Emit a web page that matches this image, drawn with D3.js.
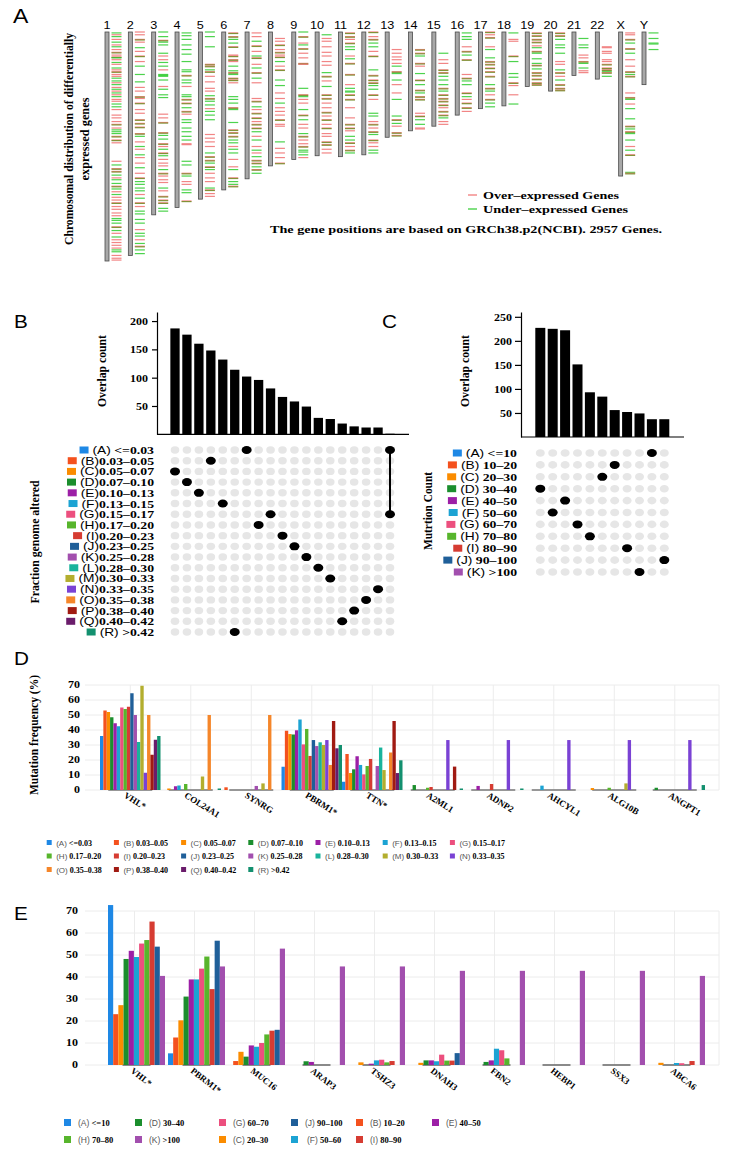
<!DOCTYPE html>
<html><head><meta charset="utf-8">
<script src="https://cdn.jsdelivr.net/npm/d3@7"></script>
<style>body{margin:0;background:#fff}svg{display:block}</style>
</head><body>
<svg id="c" width="733" height="1154"></svg>
<script>
// ---------------- DATA ----------------
const chromosomes = ['1','2','3','4','5','6','7','8','9','10','11','12','13','14','15','16','17','18','19','20','21','22','X','Y'];
const chromLengthMb = [248,242,198,190,181,171,159,145,138,134,135,133,114,107,102,90,83,80,59,64,47,51,156,57];
// gene marks per chromosome: r = over-expressed, g = under-expressed, b = both at that position (Mb)
const geneMarks = [
 "g1 r3 g5 r8 g11 r14 g16 r19 b22 r25 b27 g28 r30 g33 r35 g39 r41 b43 r46 r48 g50 g53 r55 g57 r60 g62 r64 g66 r68 g70 r73 r75 g78 g81 r84 r90 r93 r97 b100 r104 g106 g108 g110 b113 b117 r120 r140 g144 b148 b151 g155 r158 g160 g164 b167 g170 r173 g176 r179 r182 b185 r189 r192 r196 r199 g202 g204 g207 b211 g215 r218 g222 r225 r228 r231 r234 g236 g238 r242 r245 r247",
 "r0 r3 b8 r11 g17 r21 b26 r32 g37 g46 g54 r60 r64 b70 r72 b77 r84 r88 b95 b99 b103 b110 g113 r119 g124 r127 g133 r136 r142 g147 r153 b158 g162 g165 g169 g172 r176 g180 b185 r189 g194 g197 g203 g207 r214 g218 g221 r225 g229 b232 g236 g240",
 "g0 g5 b9 g11 g14 g23 r26 r30 g33 g37 r41 g46 g47 g48 g52 r59 g62 g68 g71 r89 r93 b98 b109 g112 g116 b121 r124 g127 b131 g134 r138 r142 r145 g149 b153 r156 r160 r163 g169 r172 b178 b182 b185 g191 g194",
 "g1 g4 g8 g14 g19 g24 g32 g41 g43 b47 g52 g55 r59 g68 g70 b73 b77 g82 b86 r89 g95 g98 g104 g108 g113 g117 r121 r122 g140 g144 b153 g156 r162 r165 g171 g174 b183",
 "g0 g5 g16 b35 b37 g41 b43 r48 r54 r61 r64 g69 b72 g75 g79 r83 g86 g90 g95 r111 r115 r119 r124 g131 b135 b139 g142 b146 g149 r153 r158 r162 g169 b171 r175 r178",
 "b1 b5 g8 g12 b16 r25 b26 b30 r32 g37 g42 b44 g46 b50 b52 r55 g70 g73 g77 b82 g84 g98 b106 b109 b113 g117 g120 r124 g127 g131 r138 r146 g149 b158 g162 g165 b167",
 "r1 r5 g10 b15 r21 g26 b28 r35 g39 b44 g50 r55 r72 b75 g81 r84 b88 b93 r97 b100 b104 g108 r113 g117 r124 g128 r131 g135 b139 b142 g146 b149 g153",
 "r7 r10 b14 r19 b22 r25 b27 g32 r37 b41 g52 g58 r66 r72 g77 r82 r86 r90 b95 r100 r102 g119 r126 r131 r136 b142",
 "g0 b5 r12 g14 b18 r23 r28 b34 r35 g61 b68 g70 r73 r77 g84 b90 g95 r100 r104 g110 b113 r117 r121 b124 g128 g130 g133 r136",
 "g3 r7 r10 r16 r22 r26 r32 r36 g44 b48 r53 g59 b68 b72 r77 r82 b87 r91 b95 r100 b104 r110 r113 b119 b122 r127 r131",
 "b1 b5 r8 b12 g16 g19 r26 g29 b34 b46 r57 g61 g64 g65 b68 b73 r82 r93 b100 b104 r107 g113 g117 b120 r124 b128 g131",
 "b0 r5 b8 g12 g16 r21 b26 g41 b47 b52 b55 g58 g62 b68 r73 g88 g91 r97 b100 r104 b108 g111 b117 r120 r124 g128 g131",
 "r19 r23 r27 r30 r34 g37 b43 g45 g52 r57 r66 g73 g91 b95 g99 r102 b109 b112",
 "b19 b23 g26 b34 r37 g45 b52 g57 b63 g66 b70 b73 r88 b91 g95 g100 r104 r105",
 "g23 r30 r34 b41 b44 g48 g52 g57 b61 g64 b68 b72 b75 b79 r82 b86 b90 g93 r97 r100",
 "g1 g5 g8 r16 b21 g25 b30 r46 b50 g53 g57 b66 g70 r73 b77 b82 r86",
 "b0 r3 b6 r16 g19 g28 b32 b35 b39 b43 b48 g57 b61 g64 r68 b73 g77 g81",
 "g1 r8 r10 b26 g32 g45 g49 b55 r58 r68 g78",
 "b1 b4 b8 b11 r15 g17 b21 g23 g29 g34 b36 g40 b44 b47 b51 b55 b57",
 "b1 b4 g8 g14 g17 g23 r32 r35 g41 b44 r48 g52 b57 b61 b63",
 "g7 g14 g17 r25 r28 b32 g34 g39 r42 r44",
 "r16 r17 r21 r23 r30 r32 b35 b39 b41 g43 b44 g48",
 "r1 r3 b8 g12 b18 g23 r30 r37 b43 g46 b48 r66 b71 g73 r78 g83 g94 b102 g105 b108 g110 g117 r124 g128 b133 g152 b153",
 "g1 g7 g12 g13 g19"
];

const fgaLetters = ['A','B','C','D','E','F','G','H','I','J','K','L','M','N','O','P','Q','R'];
const fgaRanges = ['<=0.03','0.03–0.05','0.05–0.07','0.07–0.10','0.10–0.13','0.13–0.15','0.15–0.17','0.17–0.20','0.20–0.23','0.23–0.25','0.25–0.28','0.28–0.30','0.30–0.33','0.33–0.35','0.35–0.38','0.38–0.40','0.40–0.42','>0.42'];
const fgaColors = ['#1e88e5','#f4511e','#fb8c00','#1b8e2d','#9c1fa6','#1ca3d3','#ec4f7e','#57b52c','#d63c32','#1f5f99','#a24fae','#19b39c','#b3ae2e','#7a42d4','#f5862a','#a01a12','#6a1c6b','#13906f'];
const fgaOverlapCounts = [187,176,160,148,132,114,102,96,81,66,58,49,29,27,19,14,12,12,1];
const fgaOverlapSets = [['C'],['D'],['E'],['B'],['F'],['R'],['A'],['H'],['G'],['I'],['J'],['K'],['L'],['M'],['Q'],['P'],['O'],['N'],['A','G']];

const mutLetters = ['A','B','C','D','E','F','G','H','I','J','K'];
const mutRanges = ['<=10','10–20','20–30','30–40','40–50','50–60','60–70','70–80','80–90','90–100','>100'];
const mutColors = ['#1e88e5','#f4511e','#fb8c00','#1b8e2d','#9c1fa6','#1ca3d3','#ec4f7e','#57b52c','#d63c32','#1f5f99','#a24fae'];
const mutOverlapCounts = [227,225,222,151,93,84,56,52,49,37,37];
const mutOverlapSets = [['D'],['F'],['E'],['G'],['H'],['C'],['B'],['I'],['K'],['A'],['J']];

const dGenes = ['VHL*','COL24A1','SYNRG','PBRM1*','TTN*','A2ML1','ADNP2','AHCYL1','ALG10B','ANGPT1'];
// rows = genes, columns = FGA groups A..R (mutation frequency %)
const dFreq = [
 [36,53,52,48.5,44.5,42.5,55,54,55.5,64.5,50,32,69.5,11.5,50,23.5,33.5,36],
 [0,0,1,0,2.5,3,0,4,0,0,0,0,9,0,50,0,0,1],
 [0,1.8,0,0,0,0,0,0,0,0,2.7,0,4.4,0,50,0,0,0],
 [15.5,39.5,37.3,37,39.8,47,30.4,40.7,22.7,33.3,29.3,31.8,30,33.3,16.7,46,27.8,30],
 [5.5,24,11.3,13.8,22.5,16.7,10.4,16,20.7,0,16,28.3,13.3,0,25,46,11.3,19.8],
 [0,0,0,3.3,0,0,0,1.5,2,0,0,0,0,33.3,0,15.6,0,1],
 [0,0,0,0,2.7,0,0,0,4,0,0,0,0,33.3,0,0,0,1],
 [0,0,0,0,0,2.9,0,0,0,0,0,0,0,33.3,0,0,0,0],
 [0,0,1.3,0,0,0,0,1.5,0,0,0,0,4.4,33.3,0,0,0,0],
 [0,0,0,1.5,0,0,0,0,0,0,0,0,0,33.3,0,0,0,3.3]
];
const dTicks = [0,10,20,30,40,50,60,70];

const eGenes = ['VHL*','PBRM1*','MUC16','ARAP3','TSHZ3','DNAH3','FBN2','HEBP1','SSX3','ABCA6'];
// rows = genes, columns = mutation-count groups A..K
const eFreq = [
 [72.7,23.1,27.2,48.2,51.9,49.1,55.2,56.8,65.2,53.8,40.5],
 [5.3,12.5,20.3,31.1,38.9,38.9,43.8,49.3,34.5,56.5,44.8],
 [0,1.8,6,3.8,8.9,8.3,10,13.9,15.6,16,52.9],
 [0,0,0,1.7,1.4,0,0,0,0,0,44.8],
 [0,0,1.2,0,0.6,2.1,2.4,1.2,1.8,0,44.8],
 [0,0,1,2.1,2.1,1.7,4.7,2,2,5.4,42.8],
 [0,0,0,1.4,2.1,7.4,6.7,3,0,0,42.8],
 [0,0,0,0,0,0,0,0,0,0,42.8],
 [0,0,0,0,0,0,0,0,0,0,42.8],
 [0,0,1,0,0,0.9,0.8,0,1.8,0,40.5]
];
const eTicks = [0,10,20,30,40,50,60,70];
const eLegendOrder = ['A','D','G','J','B','E','H','K','C','F','I'];

// ---------------- HELPERS ----------------
const SERIF = "'Liberation Serif','Times New Roman',serif";
const SANS = "'Liberation Sans',Arial,sans-serif";
const svg = d3.select('#c');
svg.append('rect').attr('width',733).attr('height',1154).attr('fill','#fff');

function label(g, x, y, str, o = {}) {
  const {size = 11, family = SERIF, weight = 'bold', anchor = 'start', sx = 1, rot = 0, len = null, fill = '#000'} = o;
  let tr = `translate(${x},${y})`;
  if (rot) tr += ` rotate(${rot})`;
  if (sx !== 1) tr += ` scale(${sx},1)`;
  const t = g.append('text').attr('transform', tr).attr('text-anchor', anchor)
    .style('font-family', family).style('font-size', size + 'px').style('font-weight', weight)
    .attr('fill', fill).text(str);
  if (len) t.attr('textLength', len).attr('lengthAdjust', 'spacingAndGlyphs');
  return t;
}
function setLabel(g, xEnd, y, letter, text, sx, size) {
  const t = g.append('text').attr('transform', `translate(${xEnd},${y}) scale(${sx},1)`)
    .attr('text-anchor', 'end').style('font-size', size + 'px').attr('fill', '#000');
  t.append('tspan').style('font-family', SANS).text(`(${letter})`);
  t.append('tspan').style('font-family', SERIF).style('font-weight', 'bold').text(text);
  return t.node().getComputedTextLength() * sx;
}
function styleAxis(ax, sx, size) {
  ax.select('.domain').attr('stroke', '#000').attr('stroke-width', 1.2);
  ax.selectAll('.tick line').attr('stroke', '#000').attr('stroke-width', 1.2);
  ax.selectAll('.tick text').each(function () {
    const t = d3.select(this);
    const x = +t.attr('x');
    t.attr('x', 0).attr('dy', null)
      .attr('transform', `translate(${x},3.6) scale(${sx},1)`)
      .style('font-family', SERIF).style('font-weight', 'bold').style('font-size', size + 'px').attr('fill', '#000');
  });
  ax.attr('font-family', null).attr('font-size', null);
}

// ---------------- PANEL A ----------------
const gA = svg.append('g');
label(gA, 13, 23, 'A', {family: SANS, weight: 'normal', size: 20, sx: 1.15});
const chrX = d3.scalePoint().domain(chromosomes).range([107, 644]);
const chrY = d3.scaleLinear().domain([0, 248]).range([32, 261]);
chromosomes.forEach((c, i) => {
  const x = chrX(c);
  label(gA, x, 29, c, {family: SANS, weight: 'normal', size: 11, anchor: 'middle', sx: 1.15});
  geneMarks[i].split(' ').forEach(tok => {
    const type = tok[0], mb = +tok.slice(1), y = chrY(mb);
    if (type === 'r' || type === 'b')
      gA.append('line').attr('x1', x + 4.5).attr('x2', x + 14.5).attr('y1', y).attr('y2', y)
        .attr('stroke', '#f07070').attr('stroke-width', 1.2).attr('opacity', 0.85);
    if (type === 'g' || type === 'b')
      gA.append('line').attr('x1', x + 4.5).attr('x2', x + 14.5).attr('y1', y + (type === 'b' ? 0.6 : 0)).attr('y2', y + (type === 'b' ? 0.6 : 0))
        .attr('stroke', type === 'b' ? '#6f8a20' : '#2ecc2e').attr('stroke-width', 1.2).attr('opacity', 0.85);
  });
  gA.append('rect').attr('x', x - 2).attr('y', chrY(0)).attr('width', 4)
    .attr('height', chrY(chromLengthMb[i]) - chrY(0))
    .attr('fill', '#a8a8a8').attr('stroke', '#4a4a4a').attr('stroke-width', 0.8);
});
label(gA, 73, 139, 'Chromosomal distribution of differentially', {rot: -90, anchor: 'middle', size: 13, len: 212});
label(gA, 89, 139, 'expressed genes', {rot: -90, anchor: 'middle', size: 13, len: 83});
gA.append('line').attr('x1', 468).attr('x2', 477).attr('y1', 195).attr('y2', 195).attr('stroke', '#f07070').attr('stroke-width', 1.2);
gA.append('line').attr('x1', 468).attr('x2', 477).attr('y1', 209).attr('y2', 209).attr('stroke', '#2ecc2e').attr('stroke-width', 1.2);
label(gA, 483, 198.5, 'Over–expressed Genes', {size: 11, len: 136});
label(gA, 483, 212.5, 'Under–expressed Genes', {size: 11, len: 145});
label(gA, 270, 232.5, 'The gene positions are based on GRCh38.p2(NCBI). 2957 Genes.', {size: 11, len: 392});

// ---------------- PANEL B ----------------
const gB = svg.append('g');
label(gB, 14, 328, 'B', {family: SANS, weight: 'normal', size: 18, sx: 1.15});
const bx = d3.scalePoint().domain(d3.range(fgaOverlapCounts.length)).range([175, 390]);
const by = d3.scaleLinear().domain([0, 216]).range([434.3, 312]);
gB.selectAll('rect.bar').data(fgaOverlapCounts).join('rect').attr('class', 'bar')
  .attr('x', (d, i) => bx(i) - 4.65).attr('width', 9.3)
  .attr('y', d => by(d)).attr('height', d => by(0) - by(d)).attr('fill', '#000');
const axB = gB.append('g').attr('transform', 'translate(157,0)')
  .call(d3.axisLeft(by).tickValues([50, 100, 150, 200]).tickSize(5).tickPadding(4).tickSizeOuter(0));
styleAxis(axB, 1.2, 10);
gB.append('line').attr('x1', 157).attr('x2', 409).attr('y1', by(0)).attr('y2', by(0)).attr('stroke', '#000').attr('stroke-width', 1.2);
label(gB, 106, 371, 'Overlap count', {rot: -90, anchor: 'middle', size: 12, len: 72});
const bRow = d3.scalePoint().domain(fgaLetters).range([450, 632]);
fgaOverlapCounts.forEach((d, i) => {
  fgaLetters.forEach(L => gB.append('ellipse').attr('cx', bx(i)).attr('cy', bRow(L)).attr('rx', 4.3).attr('ry', 3.7).attr('fill', '#e6e6e6'));
});
fgaOverlapSets.forEach((s, i) => {
  if (s.length > 1) {
    const ys = s.map(L => bRow(L));
    gB.append('line').attr('x1', bx(i)).attr('x2', bx(i)).attr('y1', d3.min(ys)).attr('y2', d3.max(ys)).attr('stroke', '#000').attr('stroke-width', 2);
  }
  s.forEach(L => gB.append('ellipse').attr('cx', bx(i)).attr('cy', bRow(L)).attr('rx', 5).attr('ry', 4).attr('fill', '#000'));
});
fgaLetters.forEach((L, i) => {
  const sep = (i === 0 || i === fgaLetters.length - 1) ? ' ' : '';
  const w = setLabel(gB, 154, bRow(L) + 4, L, sep + fgaRanges[i], 1.25, 11);
  gB.append('rect').attr('x', 154 - w - 13).attr('y', bRow(L) - 3.5).attr('width', 9).attr('height', 7).attr('fill', fgaColors[i]);
});
label(gB, 39, 542, 'Fraction genome altered', {rot: -90, anchor: 'middle', size: 12, len: 123});

// ---------------- PANEL C ----------------
const gC = svg.append('g');
label(gC, 382, 328, 'C', {family: SANS, weight: 'normal', size: 18, sx: 1.15});
const cx = d3.scalePoint().domain(d3.range(mutOverlapCounts.length)).range([540.3, 664.3]);
const cy = d3.scaleLinear().domain([0, 260]).range([437, 312]);
gC.selectAll('rect.bar').data(mutOverlapCounts).join('rect').attr('class', 'bar')
  .attr('x', (d, i) => cx(i) - 5).attr('width', 10)
  .attr('y', d => cy(d)).attr('height', d => cy(0) - cy(d)).attr('fill', '#000');
const axC = gC.append('g').attr('transform', 'translate(521,0)')
  .call(d3.axisLeft(cy).tickValues([50, 100, 150, 200, 250]).tickSize(6).tickPadding(3).tickSizeOuter(0));
styleAxis(axC, 1.2, 10);
gC.append('line').attr('x1', 521).attr('x2', 684).attr('y1', cy(0)).attr('y2', cy(0)).attr('stroke', '#000').attr('stroke-width', 1.2);
label(gC, 469, 371, 'Overlap count', {rot: -90, anchor: 'middle', size: 12, len: 72});
const cRow = d3.scalePoint().domain(mutLetters).range([453, 572]);
mutOverlapCounts.forEach((d, i) => {
  mutLetters.forEach(L => gC.append('ellipse').attr('cx', cx(i)).attr('cy', cRow(L)).attr('rx', 4.5).attr('ry', 3.8).attr('fill', '#e6e6e6'));
});
mutOverlapSets.forEach((s, i) => {
  s.forEach(L => gC.append('ellipse').attr('cx', cx(i)).attr('cy', cRow(L)).attr('rx', 5).attr('ry', 4).attr('fill', '#000'));
});
mutLetters.forEach((L, i) => {
  const w = setLabel(gC, 517, cRow(L) + 4, L, ' ' + mutRanges[i], 1.25, 11);
  gC.append('rect').attr('x', 517 - w - 13).attr('y', cRow(L) - 3.5).attr('width', 9).attr('height', 7).attr('fill', mutColors[i]);
});
label(gC, 432, 511, 'Mutrtion Count', {rot: -90, anchor: 'middle', size: 12, len: 78});

// ---------------- PANEL D ----------------
const gD = svg.append('g');
label(gD, 14, 665, 'D', {family: SANS, weight: 'normal', size: 18, sx: 1.15});
const dX = d3.scaleBand().domain(dGenes).range([100, 705]).padding(0);
const dS = d3.scaleBand().domain(fgaLetters).range([0, dX.bandwidth()]);
const dY = d3.scaleLinear().domain([0, 70]).range([790, 685]);
dTicks.forEach(t => {
  gD.append('line').attr('x1', 85).attr('x2', 719).attr('y1', dY(t)).attr('y2', dY(t)).attr('stroke', '#ececec');
  label(gD, 80, dY(t) + 3.4, String(t), {size: 10, anchor: 'end', sx: 1.2});
});
dGenes.forEach(g => gD.append('line').attr('x1', dX(g) + dX.bandwidth() / 2).attr('x2', dX(g) + dX.bandwidth() / 2).attr('y1', dY(70)).attr('y2', dY(0)).attr('stroke', '#ececec'));
gD.append('line').attr('x1', 719).attr('x2', 719).attr('y1', dY(70)).attr('y2', dY(0)).attr('stroke', '#ececec');
dGenes.forEach((g, gi) => {
  const c = dX(g) + dX.bandwidth() / 2;
  gD.append('line').attr('x1', c - 22).attr('x2', c + 22).attr('y1', dY(0)).attr('y2', dY(0)).attr('stroke', '#777').attr('stroke-width', 1.5);
  gD.selectAll(null).data(dFreq[gi]).join('rect')
    .attr('x', (d, i) => dX(g) + dS(fgaLetters[i])).attr('width', dS.bandwidth())
    .attr('y', d => dY(d)).attr('height', d => dY(0) - dY(d)).attr('fill', (d, i) => fgaColors[i]);
  label(gD, c - 7, 797, g, {size: 9, rot: 32});
});
label(gD, 38, 735, 'Mutation frequency (%)', {rot: -90, anchor: 'middle', size: 13, len: 120});
fgaLetters.forEach((L, i) => {
  const col = i % 7, row = Math.floor(i / 7);
  const x0 = 46.7 + 67.2 * col, yc = 842.5 + row * 13.5;
  gD.append('rect').attr('x', x0).attr('y', yc - 2.5).attr('width', 5).attr('height', 5).attr('fill', fgaColors[i]);
  const t = gD.append('text').attr('x', x0 + 9.5).attr('y', yc + 3).style('font-size', '8px');
  t.append('tspan').style('font-family', SANS).attr('fill', '#555').text(`(${L})`);
  t.append('tspan').style('font-family', SERIF).style('font-weight', 'bold').attr('fill', '#000').text(' ' + fgaRanges[i]);
});

// ---------------- PANEL E ----------------
const gE = svg.append('g');
label(gE, 14, 920, 'E', {family: SANS, weight: 'normal', size: 18, sx: 1.15});
const eX = d3.scaleBand().domain(eGenes).range([108, 705]).paddingInner(0.05).paddingOuter(0);
const eS = d3.scaleBand().domain(mutLetters).range([0, eX.bandwidth()]);
const eY = d3.scaleLinear().domain([0, 70]).range([1065, 911]);
eTicks.forEach(t => {
  gE.append('line').attr('x1', 85).attr('x2', 719).attr('y1', eY(t)).attr('y2', eY(t)).attr('stroke', '#ececec');
  label(gE, 78, eY(t) + 3.4, String(t), {size: 10, anchor: 'end', sx: 1.2});
});
eGenes.forEach(g => gE.append('line').attr('x1', eX(g) + eX.bandwidth() / 2 - 2).attr('x2', eX(g) + eX.bandwidth() / 2 - 2).attr('y1', eY(70)).attr('y2', eY(0)).attr('stroke', '#ececec'));
gE.append('line').attr('x1', 719).attr('x2', 719).attr('y1', eY(70)).attr('y2', eY(0)).attr('stroke', '#ececec');
eGenes.forEach((g, gi) => {
  const c = eX(g) + eX.bandwidth() / 2;
  gE.append('line').attr('x1', c - 14).attr('x2', c + 14).attr('y1', eY(0)).attr('y2', eY(0)).attr('stroke', '#666').attr('stroke-width', 1.5);
  gE.selectAll(null).data(eFreq[gi]).join('rect')
    .attr('x', (d, i) => eX(g) + eS(mutLetters[i])).attr('width', eS.bandwidth())
    .attr('y', d => eY(d)).attr('height', d => eY(0) - eY(d)).attr('fill', (d, i) => mutColors[i]);
  label(gE, c - 6.5, 1072, g, {size: 9, rot: 38});
});
const eLegX = [64, 135, 219, 291, 356, 432];
eLegendOrder.forEach((L, k) => {
  const i = mutLetters.indexOf(L);
  const col = k % 6, row = Math.floor(k / 6);
  const x0 = eLegX[col], yc = 1122.5 + row * 17;
  gE.append('rect').attr('x', x0).attr('y', yc - 3.5).attr('width', 7).attr('height', 7).attr('fill', mutColors[i]);
  const t = gE.append('text').attr('x', x0 + 14 + (L === 'F' ? 2 : 0)).attr('y', yc + 3).style('font-size', '8.5px');
  t.append('tspan').style('font-family', SANS).attr('fill', '#555').text(`(${L})`);
  t.append('tspan').style('font-family', SERIF).style('font-weight', 'bold').attr('fill', '#000').text(' ' + mutRanges[i]);
});
</script>
</body></html>
